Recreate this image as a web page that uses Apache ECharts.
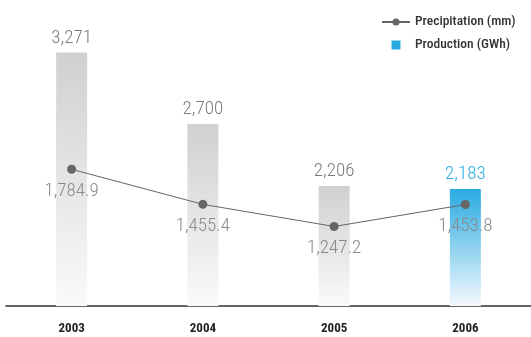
<!DOCTYPE html>
<html>
<head>
<meta charset="utf-8">
<script src="https://cdn.jsdelivr.net/npm/echarts@6/dist/echarts.min.js"></script>
<style>
  html, body { margin: 0; padding: 0; background: #ffffff; }
  #chart { width: 531px; height: 337px; }
</style>
</head>
<body>
<div id="chart"></div>
<script>
// Yearly figures
const years = ['2003', '2004', '2005', '2006'];
const production = [3271, 2700, 2206, 2183];          // GWh
const precipitation = [1784.9, 1455.4, 1247.2, 1453.8]; // mm
const highlightYear = '2006';

const FONT = '"Roboto Condensed", "DejaVu Sans Condensed", sans-serif';

function fade(top, bottom) {
  return new echarts.graphic.LinearGradient(0, 0, 0, 1, [
    { offset: 0, color: top },
    { offset: 1, color: bottom }
  ]);
}

const barItems = production.map((v, i) => {
  const hi = years[i] === highlightYear;
  return {
    value: v,
    itemStyle: { color: hi ? fade('#29abe2', '#f4f9fd') : fade('#cfd0d2', '#fafafa') },
    label: { color: hi ? '#29abe2' : '#7b7b7b' }
  };
});

const chart = echarts.init(document.getElementById('chart'), null, { renderer: 'canvas' });
chart.setOption({
  animation: false,
  backgroundColor: '#ffffff',
  textStyle: { fontFamily: FONT },
  grid: { left: 6, right: 0, top: 40, bottom: 31 },
  legend: {
    orient: 'vertical',
    left: 376,
    top: 10,
    itemGap: 9,
    itemWidth: 28,
    itemHeight: 9,
    textStyle: { fontFamily: FONT, fontSize: 13.5, fontWeight: 500, color: '#333333' },
    data: [
      { name: 'Precipitation (mm)' },
      { name: 'Production (GWh)', icon: 'path://M0,0H10V10H0Z', itemStyle: { color: '#29abe2' } }
    ]
  },
  xAxis: {
    type: 'category',
    data: years,
    axisLine: { lineStyle: { color: '#333333', width: 1.5 } },
    axisTick: { show: false },
    axisLabel: { margin: 16, fontFamily: FONT, fontSize: 13, fontWeight: 'bold', color: '#222222' }
  },
  yAxis: [
    { type: 'value', min: 1250, max: 3370, show: false },
    { type: 'value', min: 500, max: 3000, show: false }
  ],
  series: [
    {
      name: 'Production (GWh)',
      type: 'bar',
      yAxisIndex: 0,
      barWidth: 31,
      data: barItems,
      itemStyle: { color: '#29abe2' },
      label: {
        show: true,
        position: 'top',
        distance: 5,
        fontFamily: FONT,
        fontSize: 19,
        fontWeight: 300,
        formatter: p => p.value.toLocaleString('en-US')
      }
    },
    {
      name: 'Precipitation (mm)',
      type: 'line',
      yAxisIndex: 1,
      data: precipitation,
      symbol: 'circle',
      symbolSize: 9,
      itemStyle: { color: '#666666' },
      lineStyle: { color: '#666666', width: 1 },
      z: 5,
      label: {
        show: true,
        position: 'bottom',
        distance: 8,
        fontFamily: FONT,
        fontSize: 19,
        fontWeight: 300,
        color: '#8a8a8a',
        formatter: p => p.value.toLocaleString('en-US', { minimumFractionDigits: 1, maximumFractionDigits: 1 })
      }
    }
  ]
});
</script>
</body>
</html>
